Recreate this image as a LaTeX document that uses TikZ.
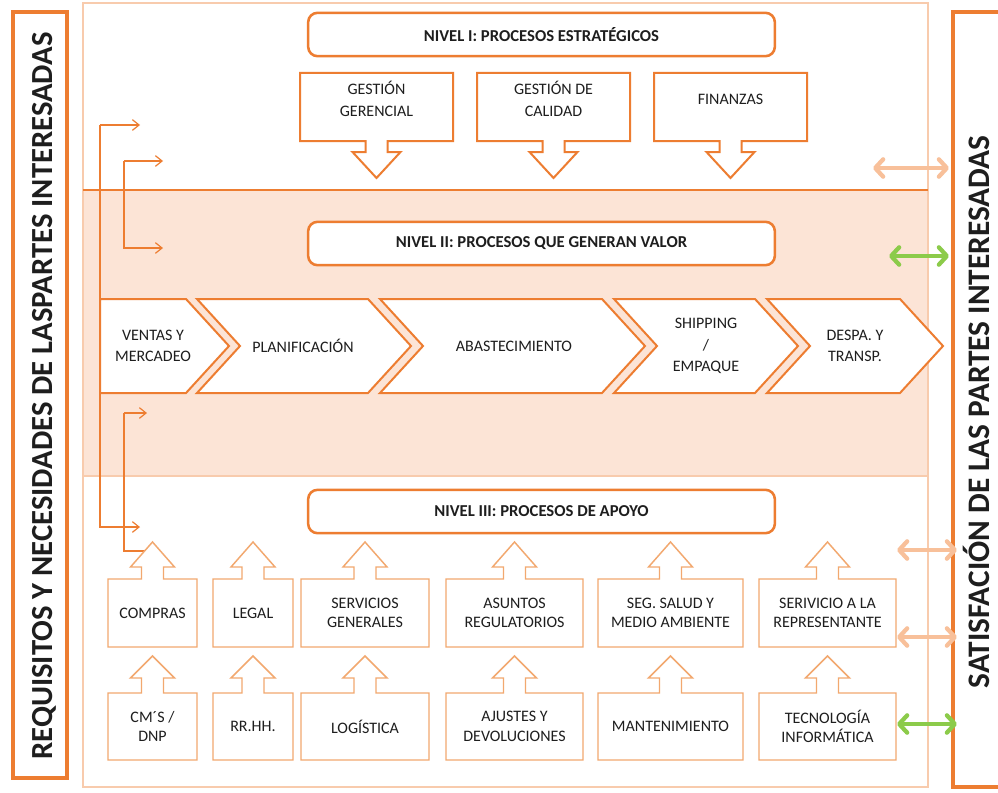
\documentclass[tikz,border=0pt]{standalone}
\usepackage{fontspec}
\setmainfont{Carlito}
\usetikzlibrary{arrows.meta}
\definecolor{orA}{HTML}{ED7D31}
\definecolor{orL}{HTML}{F2A86F}
\definecolor{orF}{HTML}{F8CBAD}
\definecolor{bandc}{HTML}{FCE4D6}
\definecolor{peach}{HTML}{F8C09A}
\definecolor{grn}{HTML}{8CCB4A}
\definecolor{txt}{HTML}{1E1E1E}
\tikzset{
  every node/.style={text=txt},
  titlebox/.style={draw=orA, line width=1.9pt, rounded corners=7pt, fill=white,
    minimum width=350pt, minimum height=32.5pt, font=\fontsize{12.5}{14}\selectfont\bfseries},
  sidebox/.style={draw=orA, line width=2.4pt},
  topcall/.style={draw=orA, line width=1.5pt, fill=white, line join=miter},
  chevshape/.style={draw=orA, line width=1.5pt, fill=white, line join=miter},
  botcall/.style={draw=orL, line width=1.1pt, fill=white, line join=miter},
  lbl/.style={align=center, inner sep=0pt, font=\fontsize{12}{16}\selectfont},
  lblb/.style={align=center, inner sep=0pt, font=\fontsize{12}{14.5}\selectfont},
  conn/.style={draw=orA, line width=0.9pt, -{Straight Barb[length=5pt,width=8pt]}},
  dbl/.style={line width=3.2pt, {Straight Barb[round,length=6pt,width=13pt]}-{Straight Barb[round,length=6pt,width=13pt]}},
  sidetext/.style={rotate=90, anchor=base, inner sep=0pt, font=\fontsize{23}{28}\selectfont\bfseries}
}
% down callout: #1 name, #2 xl, #3 xr, #4 top, #5 bottom, #6 text
\newcommand\mydowncall[6]{%
  \pgfmathsetmacro\mycx{(#2+#3)/2}%
  \draw[topcall] (#2,#4) -- (#3,#4) -- (#3,#5) -- ({\mycx+11},#5) -- ({\mycx+11},152)
    -- ({\mycx+24},152) -- (\mycx,178) -- ({\mycx-24},152) -- ({\mycx-11},152)
    -- ({\mycx-11},#5) -- (#2,#5) -- cycle;
  \node[lbl] (#1) at (\mycx,99) {#6};
}
% up callout: #1 name, #2 xl, #3 xr, #4 top, #5 bottom, #6 shoulder, #7 tip, #8 text
\newcommand\myupcall[8]{%
  \pgfmathsetmacro\mycx{(#2+#3)/2}%
  \draw[botcall] (#2,#4) -- ({\mycx-11},#4) -- ({\mycx-11},#6) -- ({\mycx-22},#6)
    -- (\mycx,#7) -- ({\mycx+22},#6) -- ({\mycx+11},#6) -- ({\mycx+11},#4)
    -- (#3,#4) -- (#3,#5) -- (#2,#5) -- cycle;
  \node[lblb] (#1) at (\mycx,{(#4+#5)/2}) {#8};
}
% chevron: #1 name, #2 xL, #3 xR, #4 text x, #5 text
\newcommand\mychev[5]{%
  \draw[chevshape] (#2,299) -- (#3,299) -- ({#3+43},346) -- (#3,393) -- (#2,393) -- ({#2+43},346) -- cycle;
  \node[lbl] (#1) at (#4,346) {#5};
}
\begin{document}
\begin{tikzpicture}[x=0.75pt,y=-0.75pt]
\clip (0,0) rectangle (998,792);
\fill[white] (0,0) rectangle (998,792);
% band and frame
\fill[bandc] (83,190) rectangle (928,476);
\draw[orF, line width=0.9pt] (83,3) rectangle (928,787);
\draw[orA, line width=1.5pt] (83,190) -- (928,190);
\draw[orF, line width=0.9pt] (83,476) -- (928,476);

% left connectors
\coordinate (a1s) at (100,125); \coordinate (a1e) at (140,125);
\coordinate (a1b) at (100,527); \coordinate (a1f) at (140,527);
\coordinate (a2s) at (124,161); \coordinate (a2e) at (163,161);
\coordinate (a2b) at (124,248); \coordinate (a2f) at (163,248);
\coordinate (a3s) at (124,413); \coordinate (a3e) at (147,413);
\coordinate (a3b) at (124,551); \coordinate (a3f) at (145,551);
\draw[conn] (a1s) -- (a1e);
\draw[conn] (a1s) -- (a1b) -- (a1f);
\draw[conn] (a2s) -- (a2e);
\draw[conn] (a2s) -- (a2b) -- (a2f);
\draw[conn] (a3s) -- (a3e);
\draw[draw=orA, line width=0.9pt] (a3s) -- (a3b) -- (a3f);

% title boxes
\node[titlebox] (n1) at (541.5,34.5) {NIVEL I: PROCESOS ESTRATÉGICOS};
\node[titlebox] (n2) at (541.5,243.5) {NIVEL II: PROCESOS QUE GENERAN VALOR};
\node[titlebox] (n3) at (541.5,511.5) {NIVEL III: PROCESOS DE APOYO};

% level I
\mydowncall{gg}{300}{453}{73}{141}{GESTIÓN\\GERENCIAL}
\mydowncall{gc}{477}{630}{73}{141}{GESTIÓN DE\\CALIDAD}
\mydowncall{fi}{654}{807}{73}{141}{FINANZAS}

% level II chevrons
\draw[chevshape] (100,299) -- (186,299) -- (229,346) -- (186,393) -- (100,393) -- cycle;
\node[lbl] (vm) at (153,346) {VENTAS Y\\MERCADEO};
\mychev{pl}{197}{368}{303}{PLANIFICACIÓN}
\mychev{ab}{380}{602}{514}{ABASTECIMIENTO}
\mychev{sh}{614}{755}{706}{SHIPPING\\/\\EMPAQUE}
\mychev{dt}{767}{900}{855}{DESPA. Y\\TRANSP.}

% level III
\myupcall{co}{108}{197}{579}{647}{567}{542}{COMPRAS}
\myupcall{le}{213}{293}{579}{647}{567}{542}{LEGAL}
\myupcall{sg}{301}{429}{579}{647}{567}{542}{SERVICIOS\\GENERALES}
\myupcall{ar}{446}{583}{579}{647}{567}{542}{ASUNTOS\\REGULATORIOS}
\myupcall{ss}{598}{743}{579}{647}{567}{542}{SEG. SALUD Y\\MEDIO AMBIENTE}
\myupcall{sr}{759}{896}{579}{647}{567}{542}{SERIVICIO A LA\\REPRESENTANTE}
\myupcall{cm}{108}{197}{693}{760}{678}{656}{CM´S /\\DNP}
\myupcall{rh}{213}{293}{693}{760}{678}{656}{RR.HH.}
\myupcall{lo}{301}{429}{693}{760}{678}{656}{LOGÍSTICA}
\myupcall{aj}{446}{583}{693}{760}{678}{656}{AJUSTES Y\\DEVOLUCIONES}
\myupcall{mt}{598}{743}{693}{760}{678}{656}{MANTENIMIENTO}
\myupcall{ti}{759}{896}{693}{760}{678}{656}{TECNOLOGÍA\\INFORMÁTICA}

% side boxes
\draw[sidebox] (13,12) rectangle (67,778);
\draw[sidebox] (953,12) rectangle (1010,787);
\node[sidetext] (req) at (52,396) {REQUISITOS Y NECESIDADES DE LASPARTES INTERESADAS};
\node[sidetext, font=\fontsize{23.5}{28}\selectfont\bfseries] (sat) at (989,412) {SATISFACIÓN DE LAS PARTES INTERESADAS};

% double arrows
\coordinate (d1a) at (873,168); \coordinate (d1b) at (949,168);
\coordinate (d2a) at (889,256); \coordinate (d2b) at (949,256);
\coordinate (d3a) at (897,550); \coordinate (d3b) at (957,550);
\coordinate (d4a) at (897,637); \coordinate (d4b) at (957,637);
\coordinate (d5a) at (897,724); \coordinate (d5b) at (957,724);
\draw[dbl, peach] (d1a) -- (d1b);
\draw[dbl, grn] (d2a) -- (d2b);
\draw[dbl, peach] (d3a) -- (d3b);
\draw[dbl, peach] (d4a) -- (d4b);
\draw[dbl, grn] (d5a) -- (d5b);
\end{tikzpicture}
\end{document}
